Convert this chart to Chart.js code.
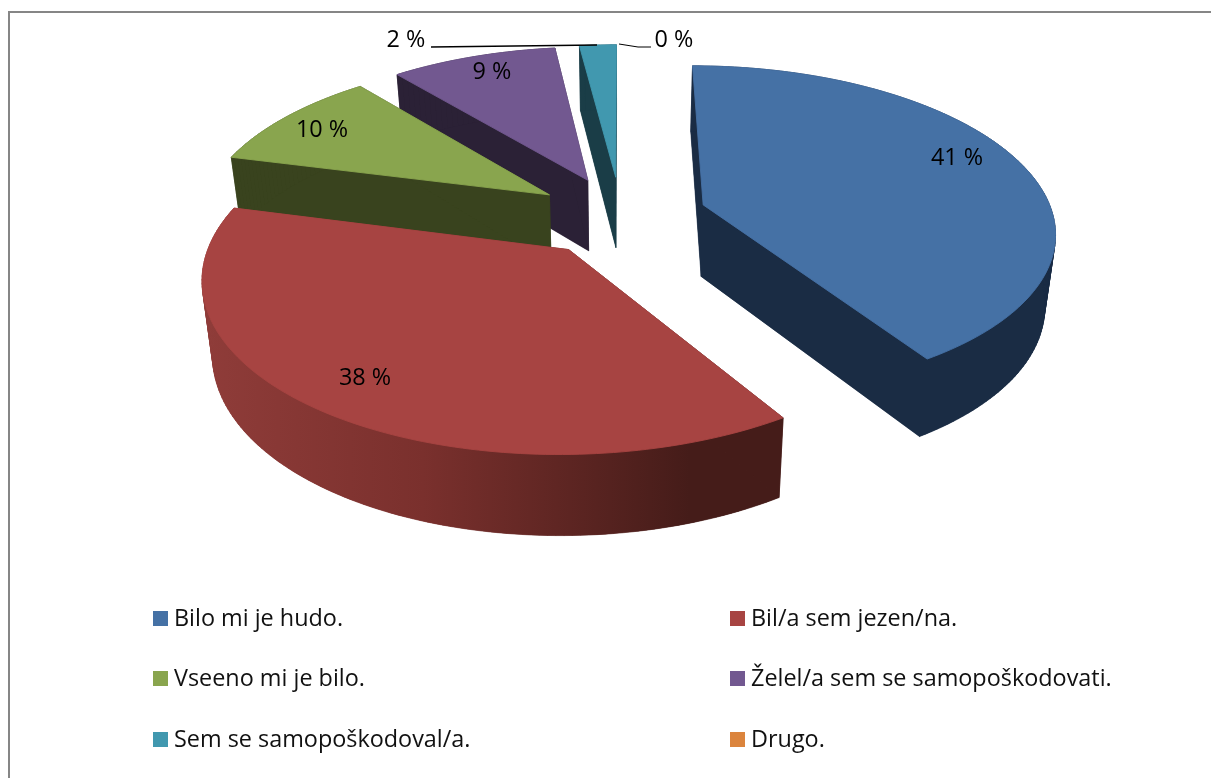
<!DOCTYPE html>
<html><head><meta charset="utf-8">
<style>html,body{margin:0;padding:0;background:#fff;overflow:hidden}canvas{display:block}</style>
<script src="https://cdn.jsdelivr.net/npm/chart.js@4/dist/chart.umd.min.js"></script>
</head><body>
<canvas id="c" width="1211" height="778"></canvas>
<script>
const categories = ['Bilo mi je hudo.','Bil/a sem jezen/na.','Vseeno mi je bilo.','Želel/a sem se samopoškodovati.','Sem se samopoškodoval/a.','Drugo.'];
const values = [41,38,10,9,2,0];
const valueLabels = ['41 %','38 %','10 %','9 %','2 %','0 %'];
const topColors = ['#4571A5','#A74442','#89A54E','#725890','#4198AF','#DB843D'];
const wallColors = ['#1A2C44','#451C19','#39431E','#2B2136','#1A3D47','#5A3518'];

// perspective model of the tilted pie plane
const P = {x0:621,y0:216,a:350,b:163,k:0.15,explode:0.247,depth:72,shrink:0.975};
function proj(u,v,low){
  const s=1/(1-P.k*v);
  let x=P.x0+P.a*u*s, y=P.y0+P.b*v*s;
  if(low){x=P.x0+(x-P.x0)*P.shrink; y+=P.depth*Math.pow(s,0.6);}
  return [x,y];
}
function outline(arc){
  const t0=arc.startAngle+Math.PI/2, t1=arc.endAngle+Math.PI/2, m=(t0+t1)/2;
  const cu=P.explode*Math.sin(m), cv=-P.explode*Math.cos(m);
  const pts=[[cu,cv]], n=Math.max(4,Math.ceil((t1-t0)/0.02));
  for(let i=0;i<=n;i++){const t=t0+(t1-t0)*i/n; pts.push([cu+Math.sin(t),cv-Math.cos(t)]);}
  return pts;
}
function path(ctx,list){ctx.beginPath();list.forEach((p,i)=>i?ctx.lineTo(p[0],p[1]):ctx.moveTo(p[0],p[1]));ctx.closePath();}

const pie3d = {
  id:'pie3d',
  beforeDatasetsDraw(chart){
    const ctx=chart.ctx, arcs=chart.getDatasetMeta(0).data;
    ctx.save();
    // frame
    ctx.strokeStyle='#868686';ctx.lineWidth=2;ctx.strokeRect(9,12,1300,900);
    [4,3,2,0,1].forEach(i=>{
      const arc=arcs[i]; if(!values[i]) return;
      const o=outline(arc), hi=o.map(p=>proj(p[0],p[1],false)), lo=o.map(p=>proj(p[0],p[1],true));
      let wall=wallColors[i];
      if(i===1){
        const g=ctx.createLinearGradient(205,0,690,0);
        g.addColorStop(0,'#8F3C39');g.addColorStop(0.45,'#7A302D');g.addColorStop(1,wallColors[1]);
        wall=g;
      }
      ctx.fillStyle=wall;ctx.strokeStyle=wall;ctx.lineWidth=0.6;
      for(let j=0;j<o.length;j++){
        const k=(j+1)%o.length;
        path(ctx,[hi[j],hi[k],lo[k],lo[j]]);ctx.fill();ctx.stroke();
      }
      path(ctx,lo);ctx.fill();
      path(ctx,hi);ctx.fillStyle=topColors[i];ctx.fill();
      ctx.strokeStyle=topColors[i];ctx.lineWidth=0.9;ctx.stroke();
    });
    ctx.restore();
    return false;
  },
  afterDraw(chart){
    const ctx=chart.ctx;
    ctx.save();
    ctx.fillStyle='#000';ctx.textBaseline='alphabetic';
    // slice labels
    ctx.font='23.4px "Open Sans"';ctx.textAlign='center';
    const at=[[957,165],[365,385],[322,137],[492,79],[406,47],[674,47]];
    valueLabels.forEach((t,i)=>ctx.fillText(t,at[i][0],at[i][1]));
    // leader lines
    ctx.strokeStyle='#000';ctx.lineWidth=1.4;
    ctx.beginPath();ctx.moveTo(431,47);ctx.lineTo(597,45);ctx.stroke();
    ctx.lineWidth=1;
    ctx.beginPath();ctx.moveTo(619,44);ctx.lineTo(638,47);ctx.lineTo(651,47);ctx.stroke();
    // legend
    ctx.textAlign='left';ctx.font='23.4px "Open Sans"';
    categories.forEach((t,i)=>{
      const cx=i%2?730:153, y=[611,671,732][Math.floor(i/2)];
      ctx.fillStyle=topColors[i];ctx.fillRect(cx,y,15,15);
      ctx.fillStyle='#111';ctx.fillText(t,cx+21,y+15);
    });
    ctx.restore();
  }
};

new Chart(document.getElementById('c'),{
  type:'pie',
  data:{labels:categories,datasets:[{data:values,backgroundColor:topColors,borderWidth:0}]},
  options:{responsive:false,animation:false,rotation:0,
    plugins:{legend:{display:false},tooltip:{enabled:false}}},
  plugins:[pie3d]
});
</script>
</body></html>
